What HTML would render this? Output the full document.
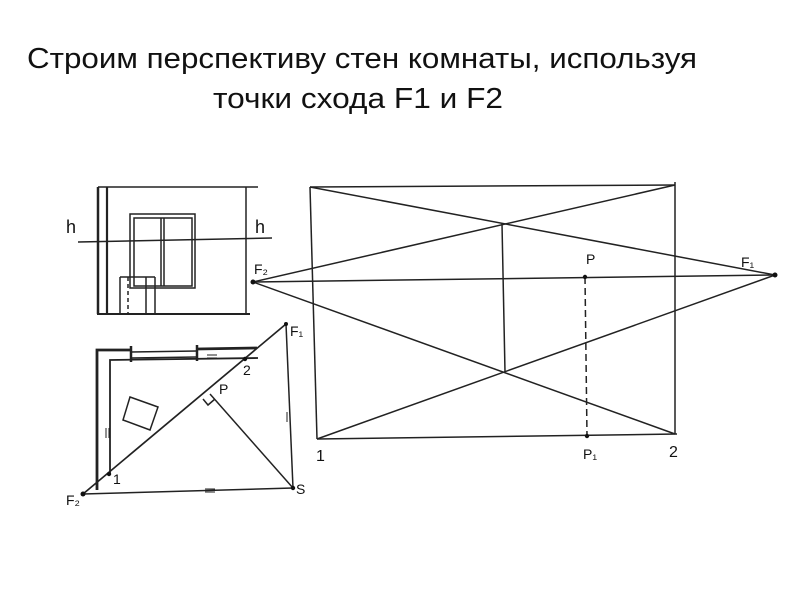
<!DOCTYPE html>
<html><head><meta charset="utf-8"><style>
html,body{margin:0;padding:0;background:#fff;}
svg{display:block;}
text{font-family:"Liberation Sans",sans-serif;fill:#111;}
</style></head><body>
<svg width="800" height="599" viewBox="0 0 800 599" xmlns="http://www.w3.org/2000/svg">
<text x="27" y="68" font-size="29" textLength="670" lengthAdjust="spacingAndGlyphs">Строим перспективу стен комнаты, используя</text>
<text x="213" y="108" font-size="29" textLength="290" lengthAdjust="spacingAndGlyphs">точки схода F1 и F2</text>

<g stroke="#222" fill="none" stroke-width="1.5">
<line x1="310" y1="187" x2="675" y2="185"/>
<line x1="310" y1="187" x2="317" y2="439"/>
<line x1="675" y1="182" x2="675" y2="434"/>
<line x1="317" y1="439" x2="677" y2="434"/>
<line x1="310" y1="187" x2="775" y2="275"/>
<line x1="253" y1="282" x2="675" y2="185"/>
<line x1="253" y1="282" x2="775" y2="275"/>
<line x1="253" y1="282" x2="675" y2="434"/>
<line x1="317" y1="439" x2="775" y2="275"/>
<line x1="502" y1="224" x2="505" y2="372"/>
<line x1="585" y1="277" x2="587" y2="436" stroke-dasharray="7,4"/>

<line x1="98" y1="187" x2="258" y2="187"/>
<line x1="98" y1="187" x2="98" y2="314" stroke-width="2.5"/>
<line x1="107" y1="187" x2="107" y2="314" stroke-width="2.2"/>
<line x1="246" y1="187" x2="246" y2="314"/>
<line x1="97" y1="314" x2="250" y2="314" stroke-width="2"/>
<rect x="130" y="214" width="65" height="74"/>
<rect x="134" y="218" width="58" height="68"/>
<line x1="161" y1="218" x2="161" y2="286"/>
<line x1="164" y1="218" x2="164" y2="286"/>
<line x1="78" y1="242" x2="272" y2="238"/>
<line x1="120" y1="277" x2="155" y2="277"/>
<line x1="120" y1="277" x2="120" y2="314"/>
<line x1="128" y1="277" x2="128" y2="314" stroke-dasharray="4,3"/>
<line x1="146" y1="277" x2="146" y2="314"/>
<line x1="155" y1="277" x2="155" y2="314"/>

<polyline points="97,490 97,350 131,350" stroke-width="2.8"/>
<line x1="197" y1="349" x2="257" y2="348" stroke-width="2.8"/>
<line x1="131" y1="352" x2="197" y2="351"/>
<line x1="131" y1="358" x2="197" y2="357"/>
<line x1="131" y1="346" x2="131" y2="362" stroke-width="2.5"/>
<line x1="197" y1="345" x2="197" y2="361" stroke-width="2.5"/>
<polyline points="110,474 110,360 258,358" stroke-width="1.8"/>
<line x1="83" y1="494" x2="286" y2="324" stroke-width="1.7"/>
<line x1="286" y1="324" x2="293" y2="488"/>
<line x1="210" y1="394" x2="293" y2="488"/>
<line x1="83" y1="494" x2="293" y2="488"/>
<polygon points="130,397 158,407 150,430 123,420"/>
<polyline points="203,399 208,405 215,399"/>
<g stroke-width="1">
<line x1="106" y1="428" x2="106" y2="438"/><line x1="109" y1="428" x2="109" y2="438"/>
<line x1="287" y1="412" x2="287" y2="422"/><line x1="290" y1="412" x2="290" y2="422"/>
<line x1="207" y1="355" x2="217" y2="355"/><line x1="207" y1="358" x2="217" y2="358"/>
<line x1="205" y1="489" x2="215" y2="489"/><line x1="205" y1="492" x2="215" y2="492"/>
</g>
</g>
<g fill="#111">
<circle cx="253" cy="282" r="2.5"/><circle cx="775" cy="275" r="2.5"/>
<circle cx="585" cy="277" r="2.2"/><circle cx="587" cy="436" r="2.2"/>
<circle cx="83" cy="494" r="2.5"/><circle cx="109" cy="474" r="2.2"/>
<circle cx="245" cy="359" r="2.2"/><circle cx="293" cy="488" r="2.2"/><circle cx="286" cy="324" r="2"/>
</g>
<g font-size="14">
<text x="254" y="274">F₂</text>
<text x="586" y="264">P</text>
<text x="741" y="267">F₁</text>
<text x="316" y="461" font-size="16">1</text>
<text x="583" y="459">P₁</text>
<text x="669" y="457" font-size="16">2</text>
<text x="66" y="233" font-size="18">h</text>
<text x="255" y="233" font-size="18">h</text>
<text x="290" y="336">F₁</text>
<text x="243" y="375">2</text>
<text x="219" y="394">P</text>
<text x="296" y="494">S</text>
<text x="113" y="484">1</text>
<text x="66" y="505">F₂</text>
</g>
</svg>
</body></html>
